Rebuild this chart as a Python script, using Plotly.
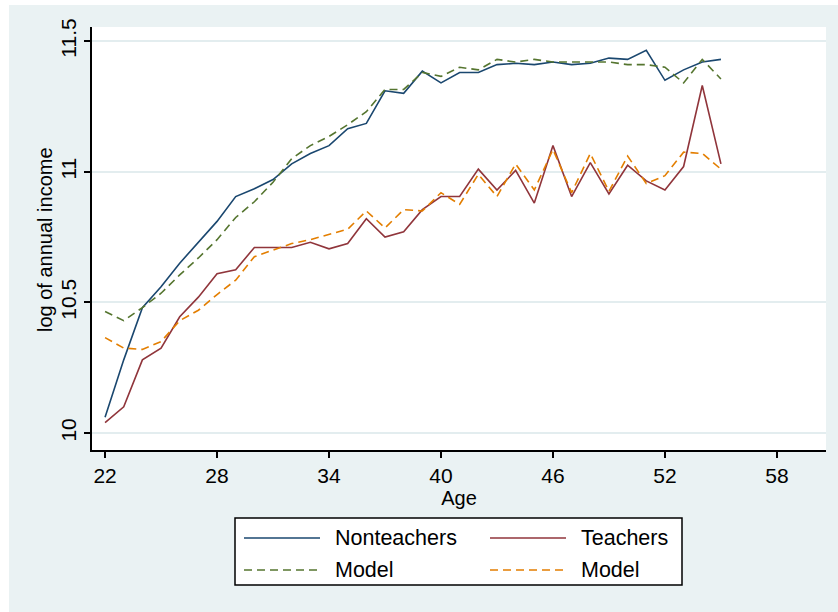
import plotly.graph_objects as go

# ---------------- data ----------------
ages = list(range(22, 56))

nonteachers = [10.06, 10.28, 10.48, 10.56, 10.65, 10.73, 10.81, 10.905, 10.935, 10.97,
               11.03, 11.07, 11.10, 11.165, 11.185, 11.31, 11.30, 11.385, 11.34, 11.38,
               11.38, 11.41, 11.415, 11.41, 11.42, 11.41, 11.415, 11.435, 11.43, 11.465,
               11.35, 11.39, 11.42, 11.43]

nonteachers_model = [10.465, 10.43, 10.48, 10.535, 10.605, 10.67, 10.74, 10.825, 10.885, 10.96,
                     11.05, 11.10, 11.135, 11.18, 11.23, 11.315, 11.315, 11.38, 11.365, 11.40,
                     11.39, 11.43, 11.42, 11.43, 11.42, 11.42, 11.42, 11.42, 11.41, 11.41,
                     11.40, 11.34, 11.43, 11.355]

teachers = [10.04, 10.10, 10.28, 10.325, 10.445, 10.52, 10.61, 10.625, 10.71, 10.71,
            10.71, 10.73, 10.705, 10.725, 10.82, 10.75, 10.77, 10.855, 10.905, 10.905,
            11.01, 10.93, 11.005, 10.88, 11.10, 10.905, 11.035, 10.915, 11.025, 10.965,
            10.93, 11.02, 11.33, 11.03]

teachers_model = [10.365, 10.325, 10.32, 10.35, 10.43, 10.47, 10.53, 10.585, 10.675, 10.70,
                  10.725, 10.74, 10.76, 10.78, 10.85, 10.785, 10.855, 10.85, 10.92, 10.875,
                  10.99, 10.905, 11.03, 10.93, 11.085, 10.92, 11.07, 10.925, 11.06, 10.955,
                  10.985, 11.075, 11.07, 11.01]

x_ticks = [22, 28, 34, 40, 46, 52, 58]
y_ticks = [10, 10.5, 11, 11.5]
y_tick_labels = ["10", "10.5", "11", "11.5"]

series_names = ["Nonteachers", "Teachers", "Model", "Model"]

# ---------------- style ----------------
W, H = 838, 612
ML, MR, MT, MB = 92, 12, 27, 162
PW, PH = W - ML - MR, H - MT - MB
FONT = "Liberation Sans, Arial, sans-serif"
NAVY, MAROON, GREEN, ORANGE = "#1a476f", "#90353b", "#55752f", "#e37e00"
BG = "#eaf2f3"
GRID = "#e3edef"
DASH = "8px,5px"
LW = 1.6


def px_x(px):
    """pixel column -> paper x (plot-area fraction)"""
    return (px - ML) / PW


def px_y(py):
    """pixel row -> paper y (plot-area fraction)"""
    return (H - MB - py) / PH


fig = go.Figure()
series = [
    (nonteachers, NAVY, "solid"),
    (teachers, MAROON, "solid"),
    (nonteachers_model, GREEN, DASH),
    (teachers_model, ORANGE, DASH),
]
for (vals, col, dash), name in zip(series, series_names):
    fig.add_trace(go.Scatter(x=ages, y=vals, mode="lines", name=name,
                             line=dict(color=col, width=LW, dash=dash),
                             showlegend=False))

shapes = [
    # white strips at top and left edges (outside the graph region)
    dict(type="rect", xref="paper", yref="paper",
         x0=px_x(0), x1=px_x(W), y0=px_y(5), y1=px_y(0),
         fillcolor="white", line=dict(width=0), layer="below"),
    dict(type="rect", xref="paper", yref="paper",
         x0=px_x(0), x1=px_x(9), y0=px_y(H), y1=px_y(0),
         fillcolor="white", line=dict(width=0), layer="below"),
    # legend frame
    dict(type="rect", xref="paper", yref="paper",
         x0=px_x(235), x1=px_x(682), y0=px_y(585), y1=px_y(518),
         fillcolor="white", line=dict(color="black", width=1.5), layer="below"),
]
annotations = [
    dict(text="log of annual income", textangle=-90, xref="paper", yref="paper",
         x=px_x(45), y=px_y(240), xanchor="center", yanchor="middle",
         showarrow=False, font=dict(family=FONT, size=20, color="black")),
]

# legend entries (2 x 2 grid, like the original key)
legend_cells = [(244, 538), (490, 538), (244, 570), (490, 570)]
for (vals, col, dash), name, (lx, ly) in zip(series, series_names, legend_cells):
    shapes.append(dict(type="line", xref="paper", yref="paper",
                       x0=px_x(lx), x1=px_x(lx + 76), y0=px_y(ly), y1=px_y(ly),
                       line=dict(color=col, width=LW, dash=dash)))
    annotations.append(dict(text=name, xref="paper", yref="paper",
                            x=px_x(lx + 89), y=px_y(ly), xanchor="left", yanchor="middle",
                            showarrow=False,
                            font=dict(family=FONT, size=21.5, color="black")))

fig.update_layout(
    width=W, height=H,
    margin=dict(l=ML, r=MR, t=MT, b=MB, autoexpand=False),
    paper_bgcolor=BG, plot_bgcolor="white",
    font=dict(family=FONT, size=20, color="black"),
    showlegend=False,
    xaxis=dict(range=[21.3, 60.63], tickvals=x_ticks, ticks="outside", ticklen=6,
               tickwidth=1.5, tickcolor="black", showline=True, linecolor="black",
               linewidth=1.6, showgrid=False, zeroline=False,
               tickfont=dict(size=21),
               title=dict(text="Age", standoff=0, font=dict(size=20))),
    yaxis=dict(range=[9.935, 11.554], tickvals=y_ticks, ticktext=y_tick_labels,
               tickangle=-90, ticks="outside", ticklen=6, tickwidth=1.5,
               tickfont=dict(size=21),
               tickcolor="black", showline=True, linecolor="black", linewidth=1.6,
               showgrid=True, gridcolor=GRID, gridwidth=1.5, zeroline=False),
    shapes=shapes,
    annotations=annotations,
)

fig.write_html("out.html")
